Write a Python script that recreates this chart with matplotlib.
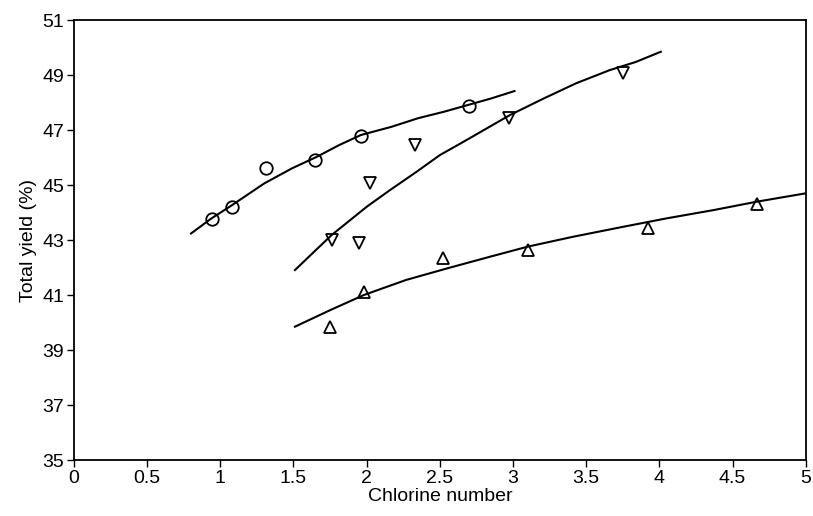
import matplotlib
matplotlib.use("Agg")
import matplotlib.pyplot as plt

plt.rcParams['font.family'] = ['Liberation Sans', 'DejaVu Sans']

# measured points
circ_x = [0.94, 1.08, 1.31, 1.65, 1.96, 2.70]
circ_y = [43.75, 44.2, 45.63, 45.93, 46.79, 47.87]
down_x = [1.76, 1.95, 2.02, 2.33, 2.97, 3.75]
down_y = [43.0, 42.9, 45.06, 46.45, 47.43, 49.06]
up_x = [1.75, 1.98, 2.52, 3.10, 3.92, 4.67]
up_y = [39.85, 41.12, 42.33, 42.64, 43.43, 44.33]

# fitted curves
circ_cx = [0.80, 0.94, 1.08, 1.30, 1.49, 1.66, 1.81, 1.96, 2.17, 2.35, 2.53, 2.69, 2.85, 3.01]
circ_cy = [43.24, 43.79, 44.27, 45.06, 45.61, 46.03, 46.45, 46.82, 47.12, 47.43, 47.67, 47.91, 48.15, 48.42]
down_cx = [1.51, 1.76, 2.0, 2.16, 2.34, 2.50, 2.66, 2.82, 2.98, 3.21, 3.43, 3.66, 3.84, 4.01]
down_cy = [41.91, 43.18, 44.21, 44.82, 45.48, 46.09, 46.57, 47.06, 47.55, 48.15, 48.70, 49.18, 49.48, 49.85]
up_cx = [1.51, 1.75, 1.98, 2.27, 2.55, 2.84, 3.10, 3.41, 3.75, 4.05, 4.37, 4.66, 5.0]
up_cy = [39.85, 40.45, 41.0, 41.55, 41.97, 42.39, 42.76, 43.12, 43.48, 43.79, 44.09, 44.39, 44.70]

fig = plt.figure(figsize=(8.13, 5.16), dpi=100)
ax = fig.add_axes([0.091, 0.1085, 0.9, 0.8525])

for cx, cy in [(circ_cx, circ_cy), (down_cx, down_cy), (up_cx, up_cy)]:
    ax.plot(cx, cy, color='black', linewidth=1.5, solid_joinstyle='round')

ax.plot(circ_x, circ_y, linestyle='none', marker='o', markersize=9,
        markerfacecolor='none', markeredgecolor='black', markeredgewidth=1.3)
ax.plot(down_x, down_y, linestyle='none', marker='v', markersize=8,
        markerfacecolor='none', markeredgecolor='black', markeredgewidth=1.3)
ax.plot(up_x, up_y, linestyle='none', marker='^', markersize=8,
        markerfacecolor='none', markeredgecolor='black', markeredgewidth=1.3)

ax.set_xlim(0, 5)
ax.set_ylim(35, 51)
ax.set_xticks([0, 0.5, 1, 1.5, 2, 2.5, 3, 3.5, 4, 4.5, 5])
ax.set_xticklabels(['0', '0.5', '1', '1.5', '2', '2.5', '3', '3.5', '4', '4.5', '5'])
ax.set_yticks([35, 37, 39, 41, 43, 45, 47, 49, 51])
ax.tick_params(direction='out', length=5, width=1, labelsize=14, pad=2)
for s in ax.spines.values():
    s.set_linewidth(1.3)

ax.set_xlabel('Chlorine number', fontsize=14, labelpad=1)
ax.set_ylabel('Total yield (%)', fontsize=14, labelpad=4)

fig.savefig('out.png', dpi=100)
